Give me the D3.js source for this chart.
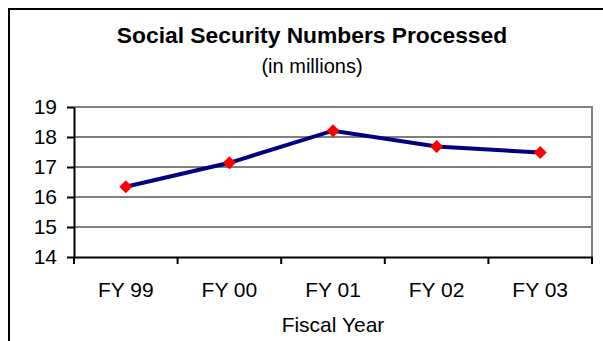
<!DOCTYPE html>
<html>
<head>
<meta charset="utf-8">
<script src="https://cdn.jsdelivr.net/npm/d3@7"></script>
<style>
  body { margin: 0; background: #fff; }
  svg { display: block; font-family: "Liberation Sans", Arial, sans-serif; }
</style>
</head>
<body>
<svg id="chart" width="603" height="341"></svg>
<script>
// chart data
const years = ['FY 99', 'FY 00', 'FY 01', 'FY 02', 'FY 03'];
const processed = [16.34, 17.14, 18.21, 17.68, 17.48];
const yTicks = [14, 15, 16, 17, 18, 19];

const width = 603;
const height = 341;
const margin = { top: 107, right: 11, bottom: 84, left: 74 };
const innerWidth = width - margin.left - margin.right;
const innerHeight = height - margin.top - margin.bottom;

const svg = d3.select('#chart');

svg.append('rect')
  .attr('width', width)
  .attr('height', height)
  .attr('fill', '#fff');

// outer chart border (runs off the right and bottom edge)
svg.append('path')
  .attr('d', `M9,${height}V9H${width}`)
  .attr('fill', 'none')
  .attr('stroke', '#000')
  .attr('stroke-width', 2);

// title
svg.append('text')
  .attr('x', 312)
  .attr('y', 43)
  .attr('text-anchor', 'middle')
  .attr('font-size', '22.8px')
  .attr('font-weight', 'bold')
  .text('Social Security Numbers Processed');

svg.append('text')
  .attr('x', 312)
  .attr('y', 73)
  .attr('text-anchor', 'middle')
  .attr('font-size', '20px')
  .text('(in millions)');

const g = svg.append('g')
  .attr('transform', `translate(${margin.left}, ${margin.top})`);

const xScale = d3.scaleBand()
  .domain(years)
  .range([0, innerWidth])
  .padding(0);

const yScale = d3.scaleLinear()
  .domain([14, 19])
  .range([innerHeight, 0]);

// gridlines
g.append('g')
  .selectAll('line')
  .data(yTicks.slice(1, -1))
  .enter()
  .append('line')
  .attr('x1', 0)
  .attr('x2', innerWidth)
  .attr('y1', d => yScale(d))
  .attr('y2', d => yScale(d))
  .attr('stroke', '#000')
  .attr('stroke-width', 1);

// plot area border, top and right
g.append('path')
  .attr('d', `M0,${yScale(19)}H${innerWidth}V${innerHeight}`)
  .attr('fill', 'none')
  .attr('stroke', '#808080')
  .attr('stroke-width', 2);

// y axis
const yAxis = g.append('g')
  .call(d3.axisLeft(yScale).tickValues(yTicks).tickFormat(d3.format('d'))
    .tickSize(7).tickPadding(10).tickSizeOuter(0));
yAxis.select('.domain').attr('stroke-width', 2);
yAxis.selectAll('line').attr('stroke-width', 2);
yAxis.selectAll('text')
  .attr('font-size', '21px')
  .attr('font-family', '"Liberation Sans", Arial, sans-serif')
  .attr('fill', '#000');

// x axis labels
const xAxis = g.append('g')
  .attr('transform', `translate(0, ${innerHeight})`)
  .call(d3.axisBottom(xScale).tickSize(0).tickPadding(25).tickSizeOuter(0));
xAxis.select('.domain').attr('stroke-width', 2);
xAxis.selectAll('text')
  .attr('font-size', '21px')
  .attr('font-family', '"Liberation Sans", Arial, sans-serif')
  .attr('fill', '#000');

// x ticks sit on the category boundaries
const boundaries = years.map(d => xScale(d)).concat([innerWidth]);
g.append('g')
  .attr('transform', `translate(0, ${innerHeight})`)
  .selectAll('line')
  .data(boundaries)
  .enter()
  .append('line')
  .attr('x1', d => d)
  .attr('x2', d => d)
  .attr('y1', 0)
  .attr('y2', 7)
  .attr('stroke', '#000')
  .attr('stroke-width', 2);

// x axis title
svg.append('text')
  .attr('x', margin.left + innerWidth / 2)
  .attr('y', 332)
  .attr('text-anchor', 'middle')
  .attr('font-size', '21px')
  .text('Fiscal Year');

// the line
const line = d3.line()
  .x((d, i) => xScale(years[i]) + xScale.bandwidth() / 2)
  .y(d => yScale(d));

g.append('path')
  .datum(processed)
  .attr('d', line)
  .attr('fill', 'none')
  .attr('stroke', '#000080')
  .attr('stroke-width', 4);

// diamond markers
g.selectAll('.marker')
  .data(processed)
  .enter()
  .append('path')
  .attr('class', 'marker')
  .attr('transform', (d, i) => `translate(${xScale(years[i]) + xScale.bandwidth() / 2}, ${yScale(d)})`)
  .attr('d', 'M0,-6.5L6.5,0L0,6.5L-6.5,0Z')
  .attr('fill', '#ff0000');
</script>
</body>
</html>
